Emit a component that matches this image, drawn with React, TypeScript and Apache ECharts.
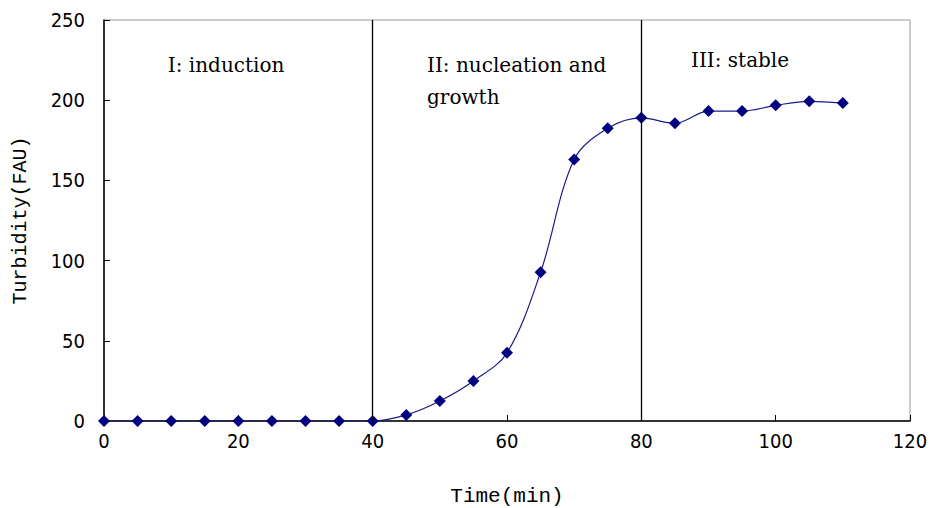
import React, { useEffect, useRef } from "react";
import * as echarts from "echarts";

const times = [0, 5, 10, 15, 20, 25, 30, 35, 40, 45, 50, 55, 60, 65, 70, 75, 80, 85, 90, 95, 100, 105, 110];
const turbidity = [0, 0, 0, 0, 0, 0, 0, 0, 0, 3.8, 12.5, 25, 42.5, 92.7, 163, 182.5, 189, 185.6, 193.2, 193.2, 196.8, 199.3, 198.2];
const phaseBoundaries = [40, 80];
const phaseLabels = [
  { text: "I: induction", x: 9.5, y: 222 },
  { text: "II: nucleation and\ngrowth", x: 48.1, y: 212 },
  { text: "III: stable", x: 87.4, y: 225 },
];

export default function App() {
  const ref = useRef<HTMLDivElement>(null);
  useEffect(() => {
    if (!ref.current) return;
    const chart = echarts.init(ref.current, null, { renderer: "svg" });
    const serif = "DejaVu Serif";
    const mono = "Liberation Mono";
    const tickFont = "DejaVu Sans Condensed";
    chart.setOption({
      animation: false,
      backgroundColor: "#ffffff",
      grid: {
        left: 104,
        right: 22,
        top: 20,
        bottom: 87,
        show: true,
        borderColor: "#999999",
        borderWidth: 1,
        backgroundColor: "transparent",
        containLabel: false,
        outerBoundsMode: "none",
      },
      xAxis: {
        type: "value",
        min: 0,
        max: 120,
        interval: 20,
        name: "Time(min)",
        nameLocation: "middle",
        nameGap: 65,
        nameTextStyle: { fontFamily: mono, fontSize: 21, color: "#000" },
        axisLine: { show: true, lineStyle: { color: "#000", width: 1.5 } },
        axisTick: { show: true, inside: true, length: 6, lineStyle: { color: "#000" } },
        axisLabel: { fontFamily: tickFont, fontSize: 20, color: "#000", margin: 10 },
        splitLine: { show: false },
      },
      yAxis: {
        type: "value",
        min: 0,
        max: 250,
        interval: 50,
        name: "Turbidity(FAU)",
        nameLocation: "middle",
        nameGap: 74,
        nameRotate: 90,
        nameTextStyle: { fontFamily: mono, fontSize: 20, color: "#000" },
        axisLine: { show: true, lineStyle: { color: "#000", width: 1.5 } },
        axisTick: { show: true, inside: true, length: 6, lineStyle: { color: "#000" } },
        axisLabel: { fontFamily: tickFont, fontSize: 20, color: "#000", margin: 19 },
        splitLine: { show: false },
      },
      series: [
        {
          type: "line",
          data: times.map((t, i) => [t, turbidity[i]]),
          smooth: 0.35,
          symbol: "diamond",
          symbolSize: 12,
          lineStyle: { color: "#1a1a8c", width: 1.2 },
          itemStyle: { color: "#000080" },
          markLine: {
            silent: true,
            symbol: "none",
            label: { show: false },
            lineStyle: { color: "#000", width: 1.3, type: "solid" },
            data: phaseBoundaries.map((b) => [
              { coord: [b, 0] },
              { coord: [b, 250] },
            ]),
          },
          markPoint: {
            silent: true,
            symbol: "circle",
            symbolSize: 0,
            data: phaseLabels.map((p) => ({
              coord: [p.x, p.y],
              label: {
                show: true,
                formatter: p.text,
                position: [0, 0],
                fontFamily: serif,
                fontSize: 20,
                lineHeight: 32,
                color: "#000",
                align: "left",
                verticalAlign: "middle",
              },
            })),
          },
        },
      ],
    });
    return () => chart.dispose();
  }, []);
  return (
    <div
      ref={ref}
      style={{ position: "absolute", left: 0, top: 0, width: 932, height: 508 }}
    />
  );
}
